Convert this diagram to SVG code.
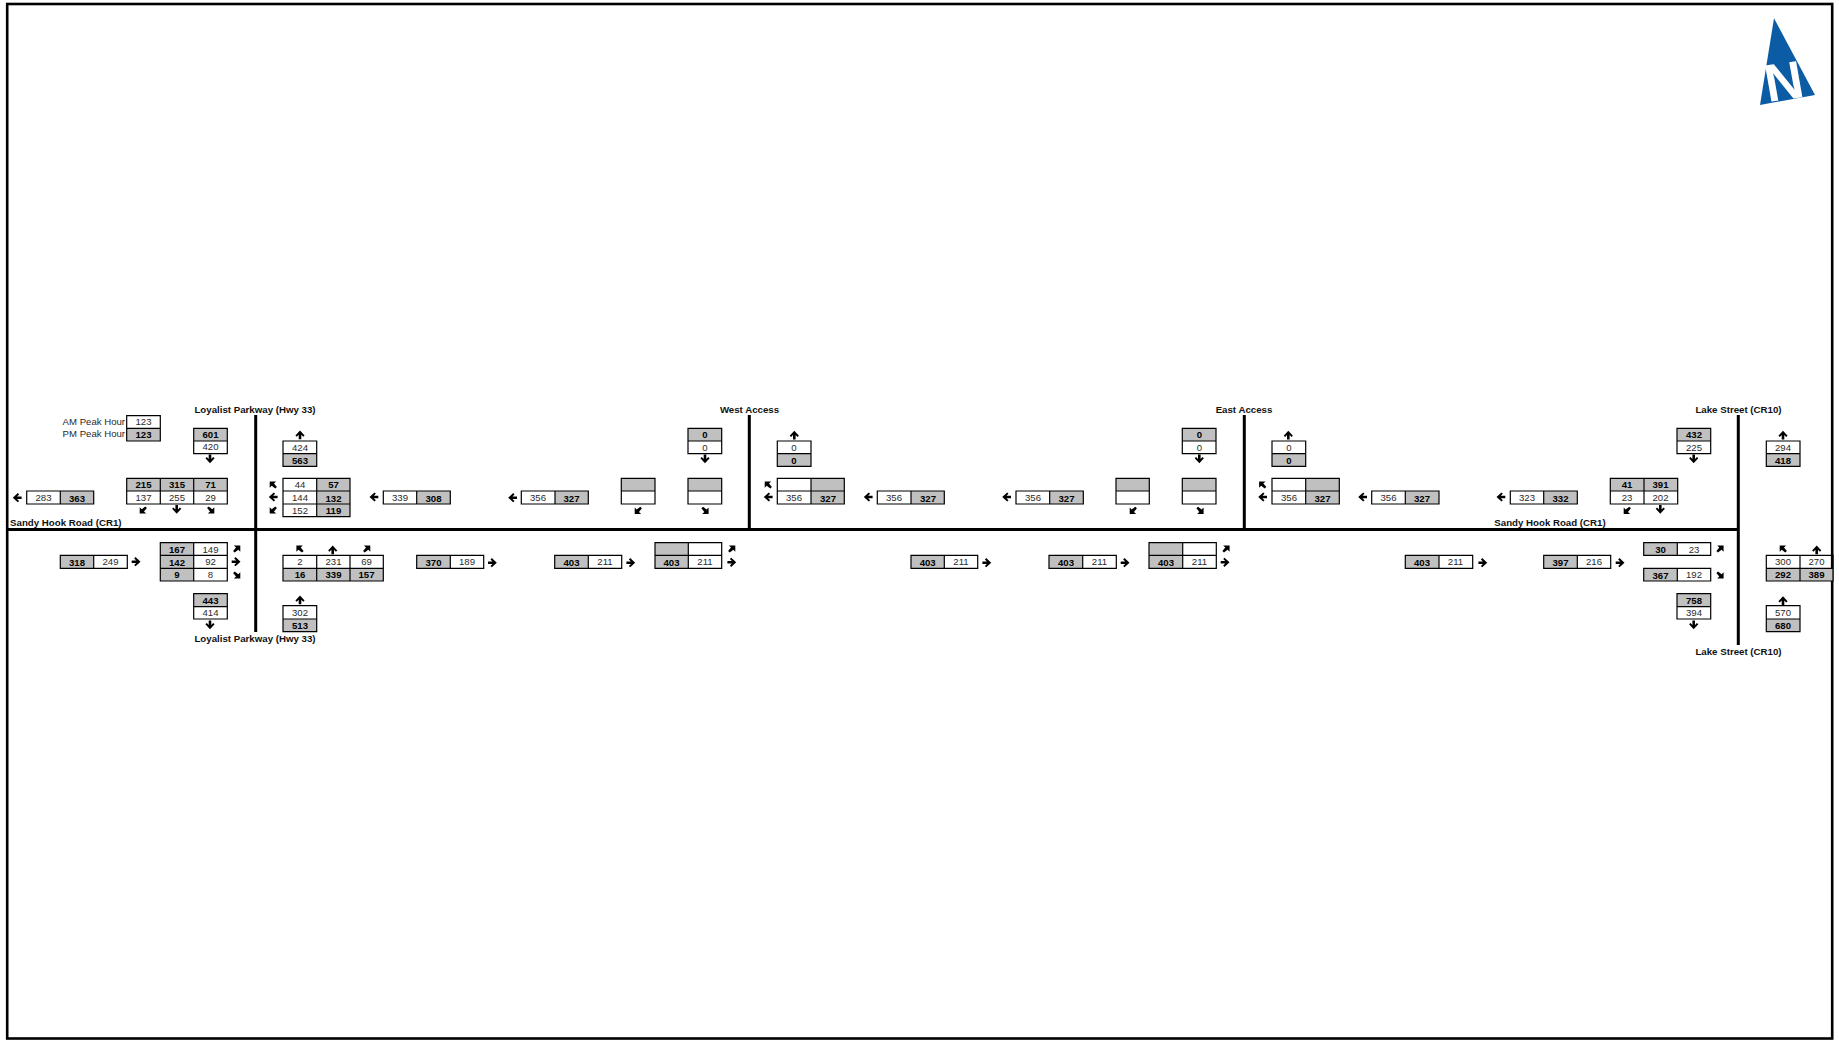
<svg xmlns="http://www.w3.org/2000/svg" width="1839" height="1040" viewBox="0 0 1839 1040">
<style>
text{font-family:"Liberation Sans",Arial,sans-serif;font-size:9.6px;text-anchor:middle;fill:#2a2a2a}
.v{font-weight:700;fill:#000}
.t{font-weight:700;fill:#111;font-size:9.7px}
.g{fill:#c0c0c0}
.l{fill:none;stroke:#000;stroke-width:1.2}
.r{fill:none;stroke:#000;stroke-width:3}
.e{text-anchor:end}
</style>
<defs>
<path id="a" d="M-4.3-1.3H.2L-1.8-3.2-.5-4.6 4.5 0-.5 4.6-1.8 3.2 .2 1.3H-4.3Z"/>
<path id="d" d="M3.6-3.6V2.8L1.6 .7-2 3.6-3.6 2-.7-1.6-2.8-3.6Z"/>
</defs>
<rect x="7.2" y="4" width="1825" height="1034.5" fill="#fff" stroke="#000" stroke-width="2.6"/>
<g id="roads">
<path class="r" d="M8 529.5H1739.8M255.7 415V632M749.3 415V529M1244.3 415V529M1738.3 415V645"/>
<text class="t" x="255" y="413">Loyalist Parkway (Hwy 33)</text>
<text class="t" x="255" y="641.5">Loyalist Parkway (Hwy 33)</text>
<text class="t" x="749.5" y="413">West Access</text>
<text class="t" x="1244" y="413">East Access</text>
<text class="t" x="1738.5" y="413">Lake Street (CR10)</text>
<text class="t" x="1738.5" y="654.5">Lake Street (CR10)</text>
<text class="t" x="65.8" y="526">Sandy Hook Road (CR1)</text>
<text class="t" x="1550" y="526">Sandy Hook Road (CR1)</text>
</g>
<g id="north">
<path d="M1774 18.3 1760 105 1815 95Z" fill="#0b5ca5"/>
<text x="0" y="0" transform="translate(1768 102) rotate(-8) skewX(2)" style="font-size:53px;font-weight:700;fill:#fff;text-anchor:start">N</text>
</g>
<g id="legend">
<rect class="g" x="126.7" y="428.3" width="33.6" height="12.7"/>
<path class="l" d="M126.7 415.7H160.3V441H126.7ZM126.7 428.3H160.3"/>
<text class="e" x="125" y="424.5">AM Peak Hour</text>
<text class="e" x="125" y="437">PM Peak Hour</text>
<text x="143.5" y="425">123</text><text class="v" x="143.5" y="438">123</text>
</g>
<g id="loyalist-sb-in">
<rect class="g" x="193.7" y="428.3" width="33.6" height="12.7"/>
<path class="l" d="M193.7 428.3H227.3V453.7H193.7ZM193.7 441H227.3"/>
<text class="v" x="210.5" y="438">601</text><text x="210.5" y="450">420</text>
</g>
<g id="loyalist-nb-out">
<rect class="g" x="283" y="453.7" width="33.6" height="12.7"/>
<path class="l" d="M283 441H316.7V466.3H283ZM283 453.7H316.7"/>
<text x="300" y="450.5">424</text><text class="v" x="300" y="463.5">563</text>
</g>
<g id="sandy-wb-out">
<rect class="g" x="60.3" y="491" width="33.4" height="13"/>
<path class="l" d="M26.7 491H93.7V504H26.7ZM60.3 491V504"/>
<text x="43.5" y="500.5">283</text><text class="v" x="77" y="501.5">363</text>
</g>
<g id="loyalist-sb-turns">
<rect class="g" x="126.7" y="478.3" width="100.6" height="12.7"/>
<path class="l" d="M126.7 478.3H227.3V504H126.7ZM126.7 491H227.3M160.3 478.3V504M193.7 478.3V504"/>
<text class="v" x="143.5" y="488">215</text><text class="v" x="177" y="488">315</text><text class="v" x="210.5" y="488">71</text>
<text x="143.5" y="500.5">137</text><text x="177" y="500.5">255</text><text x="210.5" y="500.5">29</text>
</g>
<g id="loyalist-west-turns">
<rect class="g" x="316.7" y="478.3" width="33.3" height="38.4"/>
<path class="l" d="M283 478.3H350V516.7H283ZM283 491H350M283 504H350M316.7 478.3V516.7"/>
<text x="300" y="488">44</text><text class="v" x="333.5" y="488">57</text>
<text x="300" y="500.5">144</text><text class="v" x="333.5" y="501.5">132</text>
<text x="300" y="513.5">152</text><text class="v" x="333.5" y="514">119</text>
</g>
<g id="sandy-wb-1">
<rect class="g" x="416.7" y="491" width="33.6" height="13"/>
<path class="l" d="M383.3 491H450.3V504H383.3ZM416.7 491V504"/>
<text x="400" y="500.5">339</text><text class="v" x="433.5" y="501.5">308</text>
</g>
<g id="sandy-wb-2">
<rect class="g" x="555" y="491" width="33.3" height="13"/>
<path class="l" d="M521.3 491H588.3V504H521.3ZM555 491V504"/>
<text x="538" y="500.5">356</text><text class="v" x="571.5" y="501.5">327</text>
</g>
<g id="west-sb-left">
<rect class="g" x="621.3" y="478.3" width="33.7" height="12.7"/>
<path class="l" d="M621.3 478.3H655V504H621.3ZM621.3 491H655"/>
</g>
<g id="west-sb-right">
<rect class="g" x="688" y="478.3" width="33.7" height="12.7"/>
<path class="l" d="M688 478.3H721.7V504H688ZM688 491H721.7"/>
</g>
<g id="west-sb-in">
<rect class="g" x="688" y="428.3" width="33.7" height="12.7"/>
<path class="l" d="M688 428.3H721.7V453.7H688ZM688 441H721.7"/>
<text class="v" x="705" y="438">0</text><text x="705" y="450.5">0</text>
</g>
<g id="west-nb-out">
<rect class="g" x="777.3" y="453.7" width="33.7" height="12.7"/>
<path class="l" d="M777.3 441H811V466.3H777.3ZM777.3 453.7H811"/>
<text x="794" y="450.5">0</text><text class="v" x="794" y="463.5">0</text>
</g>
<g id="west-wb-turns">
<rect class="g" x="811" y="478.3" width="33.3" height="25.7"/>
<path class="l" d="M777.3 478.3H844.3V504H777.3ZM777.3 491H844.3M811 478.3V504"/>
<text x="794" y="500.5">356</text><text class="v" x="828" y="501.5">327</text>
</g>
<g id="sandy-wb-3">
<rect class="g" x="911" y="491" width="33.3" height="13"/>
<path class="l" d="M877.3 491H944.3V504H877.3ZM911 491V504"/>
<text x="894" y="500.5">356</text><text class="v" x="928" y="501.5">327</text>
</g>
<g id="sandy-wb-4">
<rect class="g" x="1049.7" y="491" width="33.6" height="13"/>
<path class="l" d="M1016 491H1083.3V504H1016ZM1049.7 491V504"/>
<text x="1033" y="500.5">356</text><text class="v" x="1066.5" y="501.5">327</text>
</g>
<g id="east-sb-left">
<rect class="g" x="1116" y="478.3" width="33.3" height="12.7"/>
<path class="l" d="M1116 478.3H1149.3V504H1116ZM1116 491H1149.3"/>
</g>
<g id="east-sb-right">
<rect class="g" x="1182.3" y="478.3" width="33.7" height="12.7"/>
<path class="l" d="M1182.3 478.3H1216V504H1182.3ZM1182.3 491H1216"/>
</g>
<g id="east-sb-in">
<rect class="g" x="1182.3" y="428.3" width="33.7" height="12.7"/>
<path class="l" d="M1182.3 428.3H1216V453.7H1182.3ZM1182.3 441H1216"/>
<text class="v" x="1199.5" y="438">0</text><text x="1199.5" y="450.5">0</text>
</g>
<g id="east-nb-out">
<rect class="g" x="1272" y="453.7" width="33.7" height="12.7"/>
<path class="l" d="M1272 441H1305.7V466.3H1272ZM1272 453.7H1305.7"/>
<text x="1289" y="450.5">0</text><text class="v" x="1289" y="463.5">0</text>
</g>
<g id="east-wb-turns">
<rect class="g" x="1305.7" y="478.3" width="33.6" height="25.7"/>
<path class="l" d="M1272 478.3H1339.3V504H1272ZM1272 491H1339.3M1305.7 478.3V504"/>
<text x="1289" y="500.5">356</text><text class="v" x="1322.5" y="501.5">327</text>
</g>
<g id="sandy-wb-5">
<rect class="g" x="1405.3" y="491" width="33.7" height="13"/>
<path class="l" d="M1371.7 491H1439V504H1371.7ZM1405.3 491V504"/>
<text x="1388.5" y="500.5">356</text><text class="v" x="1422" y="501.5">327</text>
</g>
<g id="sandy-wb-6">
<rect class="g" x="1543.7" y="491" width="33.6" height="13"/>
<path class="l" d="M1510.3 491H1577.3V504H1510.3ZM1543.7 491V504"/>
<text x="1527" y="500.5">323</text><text class="v" x="1560.5" y="501.5">332</text>
</g>
<g id="lake-west-turns">
<rect class="g" x="1610.3" y="478.3" width="67.4" height="12.7"/>
<path class="l" d="M1610.3 478.3H1677.7V504H1610.3ZM1610.3 491H1677.7M1644 478.3V504"/>
<text class="v" x="1627" y="488">41</text><text class="v" x="1660.5" y="488">391</text>
<text x="1627" y="500.5">23</text><text x="1660.5" y="500.5">202</text>
</g>
<g id="lake-sb-in">
<rect class="g" x="1677" y="428.3" width="33.7" height="12.7"/>
<path class="l" d="M1677 428.3H1710.7V453.7H1677ZM1677 441H1710.7"/>
<text class="v" x="1694" y="438">432</text><text x="1694" y="450.5">225</text>
</g>
<g id="lake-nb-out">
<rect class="g" x="1766.3" y="453.7" width="33.7" height="12.7"/>
<path class="l" d="M1766.3 441H1800V466.3H1766.3ZM1766.3 453.7H1800"/>
<text x="1783" y="450.5">294</text><text class="v" x="1783" y="463.5">418</text>
</g>
<g id="sandy-eb-1">
<rect class="g" x="60.3" y="555.3" width="33.4" height="13"/>
<path class="l" d="M60.3 555.3H127.3V568.3H60.3ZM93.7 555.3V568.3"/>
<text class="v" x="77" y="565.5">318</text><text x="110.5" y="565">249</text>
</g>
<g id="loyalist-east-turns">
<rect class="g" x="160.3" y="542.7" width="33.4" height="38.3"/>
<path class="l" d="M160.3 542.7H227.3V581H160.3ZM160.3 555.3H227.3M160.3 568.3H227.3M193.7 542.7V581"/>
<text class="v" x="177" y="553.3">167</text><text x="210.5" y="552.5">149</text>
<text class="v" x="177" y="565.5">142</text><text x="210.5" y="565">92</text>
<text class="v" x="177" y="578">9</text><text x="210.5" y="577.5">8</text>
</g>
<g id="loyalist-sb-out">
<rect class="g" x="193.7" y="593.7" width="33.6" height="13"/>
<path class="l" d="M193.7 593.7H227.3V619H193.7ZM193.7 606.7H227.3"/>
<text class="v" x="210.5" y="603.5">443</text><text x="210.5" y="616">414</text>
</g>
<g id="loyalist-nb-turns">
<rect class="g" x="283" y="568.3" width="100.3" height="12.7"/>
<path class="l" d="M283 555.3H383.3V581H283ZM283 568.3H383.3M316.7 555.3V581M350 555.3V581"/>
<text x="300" y="565">2</text><text x="333.5" y="565">231</text><text x="366.5" y="565">69</text>
<text class="v" x="300" y="578">16</text><text class="v" x="333.5" y="578">339</text><text class="v" x="366.5" y="578">157</text>
</g>
<g id="loyalist-nb-in">
<rect class="g" x="283" y="619" width="33.7" height="12.7"/>
<path class="l" d="M283 605.7H316.7V631.7H283ZM283 619H316.7"/>
<text x="300" y="615.5">302</text><text class="v" x="300" y="628.5">513</text>
</g>
<g id="sandy-eb-2">
<rect class="g" x="416.7" y="555.3" width="33.6" height="13"/>
<path class="l" d="M416.7 555.3H483.7V568.3H416.7ZM450.3 555.3V568.3"/>
<text class="v" x="433.5" y="565.5">370</text><text x="467" y="565">189</text>
</g>
<g id="sandy-eb-3">
<rect class="g" x="554.7" y="555.3" width="33.6" height="13"/>
<path class="l" d="M554.7 555.3H621.7V568.3H554.7ZM588.3 555.3V568.3"/>
<text class="v" x="571.5" y="565.5">403</text><text x="605" y="565">211</text>
</g>
<g id="west-eb-turns">
<rect class="g" x="655" y="542.7" width="33.3" height="25.6"/>
<path class="l" d="M655 542.7H721.7V568.3H655ZM655 555.3H721.7M688.3 542.7V568.3"/>
<text class="v" x="671.5" y="565.5">403</text><text x="705" y="565">211</text>
</g>
<g id="sandy-eb-4">
<rect class="g" x="911" y="555.3" width="33.3" height="13"/>
<path class="l" d="M911 555.3H977.7V568.3H911ZM944.3 555.3V568.3"/>
<text class="v" x="927.7" y="565.5">403</text><text x="961" y="565">211</text>
</g>
<g id="sandy-eb-5">
<rect class="g" x="1049" y="555.3" width="33.7" height="13"/>
<path class="l" d="M1049 555.3H1116.3V568.3H1049ZM1082.7 555.3V568.3"/>
<text class="v" x="1066" y="565.5">403</text><text x="1099.5" y="565">211</text>
</g>
<g id="east-eb-turns">
<rect class="g" x="1149" y="542.7" width="33.7" height="25.6"/>
<path class="l" d="M1149 542.7H1216.3V568.3H1149ZM1149 555.3H1216.3M1182.7 542.7V568.3"/>
<text class="v" x="1166" y="565.5">403</text><text x="1199.5" y="565">211</text>
</g>
<g id="sandy-eb-6">
<rect class="g" x="1405.3" y="555.3" width="33.7" height="13"/>
<path class="l" d="M1405.3 555.3H1472.7V568.3H1405.3ZM1439 555.3V568.3"/>
<text class="v" x="1422" y="565.5">403</text><text x="1455.5" y="565">211</text>
</g>
<g id="sandy-eb-7">
<rect class="g" x="1543.7" y="555.3" width="33.6" height="13"/>
<path class="l" d="M1543.7 555.3H1610.7V568.3H1543.7ZM1577.3 555.3V568.3"/>
<text class="v" x="1560.5" y="565.5">397</text><text x="1594" y="565">216</text>
</g>
<g id="lake-east-left">
<rect class="g" x="1643.7" y="542.7" width="33.6" height="12.6"/>
<path class="l" d="M1643.7 542.7H1710.7V555.3H1643.7ZM1677.3 542.7V555.3"/>
<text class="v" x="1660.5" y="553">30</text><text x="1694" y="552.5">23</text>
</g>
<g id="lake-east-right">
<rect class="g" x="1643.7" y="568.3" width="33.6" height="12.7"/>
<path class="l" d="M1643.7 568.3H1710.7V581H1643.7ZM1677.3 568.3V581"/>
<text class="v" x="1660.5" y="578.5">367</text><text x="1694" y="577.5">192</text>
</g>
<g id="lake-sb-out">
<rect class="g" x="1677" y="593.7" width="33.7" height="13"/>
<path class="l" d="M1677 593.7H1710.7V619H1677ZM1677 606.7H1710.7"/>
<text class="v" x="1694" y="603.5">758</text><text x="1694" y="616">394</text>
</g>
<g id="lake-nb-turns">
<rect class="g" x="1766.3" y="568.3" width="66.7" height="12.7"/>
<path class="l" d="M1766.3 555.3H1833V581H1766.3ZM1766.3 568.3H1833M1800 555.3V581"/>
<text x="1783" y="565">300</text><text x="1816.5" y="565">270</text>
<text class="v" x="1783" y="578">292</text><text class="v" x="1816.5" y="578">389</text>
</g>
<g id="lake-nb-in">
<rect class="g" x="1766.3" y="619" width="33.7" height="12.7"/>
<path class="l" d="M1766.3 605.7H1800V631.7H1766.3ZM1766.3 619H1800"/>
<text x="1783" y="615.5">570</text><text class="v" x="1783" y="628.5">680</text>
</g>
<g id="connectors">
<use href="#a" transform="translate(300 435) rotate(-90)"/>
<use href="#a" transform="translate(210 458.7) rotate(90)"/>
<use href="#d" transform="translate(143.3 510) rotate(180)"/>
<use href="#a" transform="translate(176.7 509.3) rotate(90)"/>
<use href="#d" transform="translate(210.7 510) rotate(90)"/>
<use href="#d" transform="translate(273.3 485) rotate(-90)"/>
<use href="#a" transform="translate(273.3 497) rotate(180)"/>
<use href="#d" transform="translate(273.3 510) rotate(180)"/>
<use href="#a" transform="translate(17.3 497.7) rotate(180)"/>
<use href="#a" transform="translate(374 497) rotate(180)"/>
<use href="#d" transform="translate(236.7 549)"/>
<use href="#a" transform="translate(236 561.7)"/>
<use href="#d" transform="translate(236.7 575) rotate(90)"/>
<use href="#a" transform="translate(136 561.7)"/>
<use href="#d" transform="translate(300 549) rotate(-90)"/>
<use href="#a" transform="translate(332.7 550) rotate(-90)"/>
<use href="#d" transform="translate(366.7 549)"/>
<use href="#a" transform="translate(210 624.7) rotate(90)"/>
<use href="#a" transform="translate(300 600) rotate(-90)"/>
<use href="#a" transform="translate(492.3 562.7)"/>
<use href="#a" transform="translate(512.7 497.7) rotate(180)"/>
<use href="#d" transform="translate(638.3 510.3) rotate(180)"/>
<use href="#d" transform="translate(705 510.3) rotate(90)"/>
<use href="#a" transform="translate(705 458.7) rotate(90)"/>
<use href="#a" transform="translate(794.3 435.3) rotate(-90)"/>
<use href="#d" transform="translate(768.3 485) rotate(-90)"/>
<use href="#a" transform="translate(768.3 497) rotate(180)"/>
<use href="#a" transform="translate(868.3 497) rotate(180)"/>
<use href="#a" transform="translate(630.7 562.7)"/>
<use href="#d" transform="translate(731.7 549)"/>
<use href="#a" transform="translate(731.7 562.3)"/>
<use href="#a" transform="translate(1006.7 497) rotate(180)"/>
<use href="#d" transform="translate(1133.3 510.3) rotate(180)"/>
<use href="#d" transform="translate(1200 510.3) rotate(90)"/>
<use href="#a" transform="translate(1199.3 458.7) rotate(90)"/>
<use href="#a" transform="translate(1288.3 435.3) rotate(-90)"/>
<use href="#d" transform="translate(1262.7 485) rotate(-90)"/>
<use href="#a" transform="translate(1262.7 497) rotate(180)"/>
<use href="#a" transform="translate(1362.7 497) rotate(180)"/>
<use href="#a" transform="translate(986.7 562.7)"/>
<use href="#a" transform="translate(1125 562.7)"/>
<use href="#d" transform="translate(1226 549)"/>
<use href="#a" transform="translate(1225 562.3)"/>
<use href="#a" transform="translate(1693.7 458.7) rotate(90)"/>
<use href="#a" transform="translate(1783 435.3) rotate(-90)"/>
<use href="#a" transform="translate(1501 497) rotate(180)"/>
<use href="#d" transform="translate(1627.3 510.3) rotate(180)"/>
<use href="#a" transform="translate(1660.3 509.3) rotate(90)"/>
<use href="#a" transform="translate(1482.7 562.7)"/>
<use href="#a" transform="translate(1620 562.7)"/>
<use href="#d" transform="translate(1720 549)"/>
<use href="#d" transform="translate(1720 575) rotate(90)"/>
<use href="#a" transform="translate(1693.7 624.7) rotate(90)"/>
<use href="#d" transform="translate(1783.3 549) rotate(-90)"/>
<use href="#a" transform="translate(1816.7 550) rotate(-90)"/>
<use href="#a" transform="translate(1783 600.7) rotate(-90)"/>
</g>
</svg>
